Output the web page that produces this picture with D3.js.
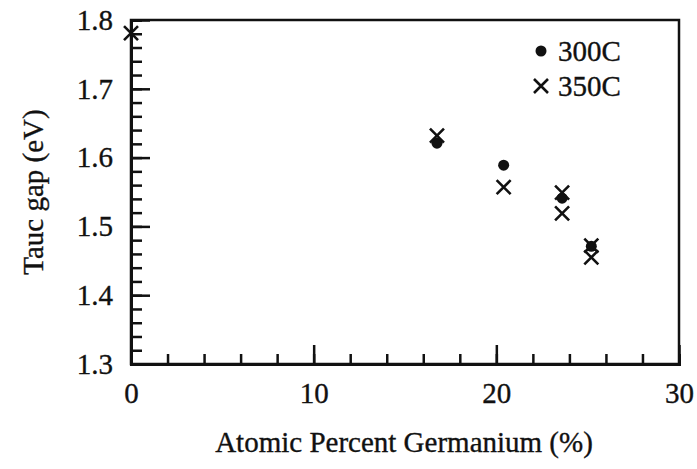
<!DOCTYPE html>
<html><head><meta charset="utf-8">
<script src="https://cdn.jsdelivr.net/npm/d3@7"></script>
<style>
body{margin:0;background:#fff;}
svg text{font-family:"Liberation Serif","Times New Roman",Times,"DejaVu Serif",serif !important;fill:#111;stroke:#111;stroke-width:0.35px;}
</style></head>
<body>
<svg id="c" width="697" height="469"></svg>
<script>
const x300 = [16.75, 20.4, 23.6, 25.2];
const y300 = [1.621, 1.589, 1.541, 1.471];
const x350 = [0, 16.75, 20.4, 23.6, 23.6, 25.2, 25.2];
const y350 = [1.781, 1.632, 1.557, 1.549, 1.519, 1.472, 1.455];
const xTicks = [0, 10, 20, 30];
const yTicks = [1.3, 1.4, 1.5, 1.6, 1.7, 1.8];
const seriesNames = ["300C", "350C"];
const xTitle = "Atomic Percent Germanium (%)";
const yTitle = "Tauc gap (eV)";

const FS = "29px";
const svg = d3.select("#c");
const L = 131, T = 20, R = 679, B = 364;
const x = d3.scaleLinear().domain([0, 30]).range([L, R]);
const y = d3.scaleLinear().domain([1.3, 1.8]).range([B, T]);
const ink = "#111";

// frame
svg.append("rect").attr("x", L).attr("y", T).attr("width", R - L).attr("height", B - T)
  .attr("fill", "none").attr("stroke", ink).attr("stroke-width", 2.5);

// y axis ticks (inward)
const yMinor = d3.range(1.3, 1.8001, 0.02);
const gy = svg.append("g").attr("transform", `translate(${L},0)`)
  .call(d3.axisRight(y).tickValues(yMinor).tickSize(11).tickFormat(""));
gy.select(".domain").attr("stroke", ink).attr("stroke-width", 3);
gy.selectAll(".tick line").attr("stroke", ink).attr("stroke-width", 2.5);
const gy2 = svg.append("g").attr("transform", `translate(${L},0)`)
  .call(d3.axisRight(y).tickValues(yTicks).tickSize(19).tickFormat(""));
gy2.select(".domain").remove();
gy2.selectAll(".tick line").attr("stroke", ink).attr("stroke-width", 2.5);
const gyl = svg.append("g").attr("transform", `translate(${L},0)`)
  .call(d3.axisLeft(y).tickValues(yTicks).tickSize(0).tickPadding(18).tickFormat(d3.format(".1f")));
gyl.select(".domain").remove();
gyl.attr("font-size", null).attr("font-family", null);
gyl.selectAll("text").style("font-size", FS).attr("fill", ink);

// x axis ticks (inward)
const xMinor = d3.range(0, 30.001, 2);
const gx = svg.append("g").attr("transform", `translate(0,${B})`)
  .call(d3.axisTop(x).tickValues(xMinor).tickSize(10).tickFormat(""));
gx.select(".domain").attr("stroke", ink).attr("stroke-width", 3);
gx.selectAll(".tick line").attr("stroke", ink).attr("stroke-width", 2.5);
const gx2 = svg.append("g").attr("transform", `translate(0,${B})`)
  .call(d3.axisTop(x).tickValues(xTicks).tickSize(19).tickFormat(""));
gx2.select(".domain").remove();
gx2.selectAll(".tick line").attr("stroke", ink).attr("stroke-width", 2.5);
const gxl = svg.append("g").attr("transform", `translate(0,${B})`)
  .call(d3.axisBottom(x).tickValues(xTicks).tickSize(0).tickPadding(18).tickFormat(d3.format("d")));
gxl.select(".domain").remove();
gxl.attr("font-size", null).attr("font-family", null);
gxl.selectAll("text").style("font-size", FS).attr("fill", ink);

// titles
svg.append("text").attr("x", 404).attr("y", 452).attr("text-anchor", "middle")
  .style("font-size", FS).text(xTitle);
svg.append("text").attr("transform", `translate(43,${(T + B) / 2}) rotate(-90)`)
  .attr("text-anchor", "middle").style("font-size", FS).text(yTitle);

// markers
const cross = (g, cx, cy, s) => {
  g.append("path").attr("d", `M${cx - s},${cy - s}L${cx + s},${cy + s}M${cx - s},${cy + s}L${cx + s},${cy - s}`)
    .attr("stroke", ink).attr("stroke-width", 2.6).attr("fill", "none");
};
const pts = svg.append("g");
x300.forEach((v, i) => pts.append("circle").attr("cx", x(v)).attr("cy", y(y300[i])).attr("r", 5.5).attr("fill", ink));
x350.forEach((v, i) => cross(pts, x(v), y(y350[i]), 7));

// legend
svg.append("circle").attr("cx", 541).attr("cy", 51).attr("r", 5.5).attr("fill", ink);
cross(svg, 541, 86, 7);
svg.append("text").attr("x", 558).attr("y", 61).style("font-size", FS).text(seriesNames[0]);
svg.append("text").attr("x", 558).attr("y", 96).style("font-size", FS).text(seriesNames[1]);
</script>
</body></html>
